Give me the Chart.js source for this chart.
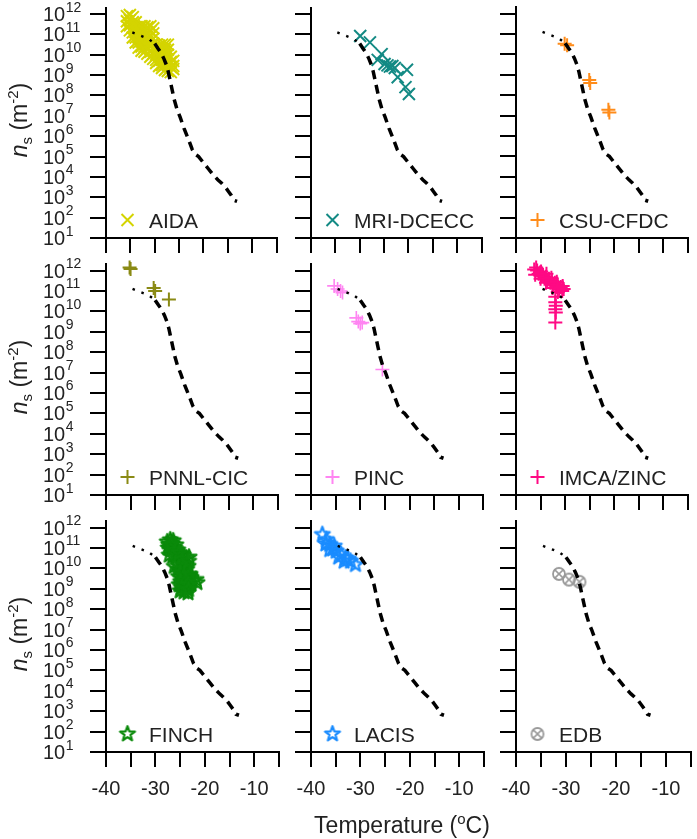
<!DOCTYPE html>
<html><head><meta charset="utf-8">
<script src="https://cdn.jsdelivr.net/npm/chart.js@4/dist/chart.umd.min.js"></script>
<style>
html,body{margin:0;padding:0;background:#fff;}
body{width:697px;height:839px;position:relative;overflow:hidden;}
canvas{position:absolute;}
</style></head><body>
<script>
// ---------------- DATA ----------------
const xTickValues = [-40, -35, -30, -25, -20, -15, -10, -5];
const xTickLabels = [-40, -30, -20, -10];
const yTickExponents = [1, 2, 3, 4, 5, 6, 7, 8, 9, 10, 11, 12];

// reference curve (temperature in degC, log10 of ns in m^-2)
const curveDottedT    = [-34.6, -33.0, -31.4, -30.0];
const curveDottedLogN = [11.1, 10.95, 10.8, 10.55];
const curveDashedT    = [-30.0, -29.3, -28.7, -28.1, -27.6, -27.2, -26.8, -26.4, -26.0, -25.4, -24.8, -24.0, -23.0, -22.3, -21.6, -21.0, -20.0, -19.0, -18.0, -17.0, -16.3, -15.5, -14.9, -14.3, -13.7, -13.1];
const curveDashedLogN = [10.55, 10.3, 10.1, 9.8, 9.5, 9.15, 8.7, 8.25, 7.8, 7.3, 6.95, 6.4, 5.8, 5.35, 5.1, 5.0, 4.7, 4.4, 4.1, 3.85, 3.7, 3.5, 3.3, 3.1, 2.85, 2.8];

// instrument data: [temperature, log10 ns]
const aida = [
  [-35.7,11.9],[-35.7,11.65],[-35.7,11.4],
  [-35.1,11.95],[-35.1,11.7],[-35.1,11.45],[-35.1,11.2],
  [-34.5,11.85],[-34.5,11.6],[-34.5,11.35],[-34.5,11.1],[-34.5,10.85],
  [-33.9,11.6],[-33.9,11.35],[-33.9,11.1],[-33.9,10.85],[-33.9,10.6],
  [-33.3,11.35],[-33.3,11.1],[-33.3,10.85],[-33.3,10.6],[-33.3,10.35],
  [-32.7,11.4],[-32.7,11.15],[-32.7,10.9],[-32.7,10.65],[-32.7,10.4],[-32.7,10.2],
  [-32.1,11.4],[-32.1,11.15],[-32.1,10.9],[-32.1,10.65],[-32.1,10.4],[-32.1,10.15],
  [-31.5,11.35],[-31.5,11.1],[-31.5,10.85],[-31.5,10.6],[-31.5,10.35],[-31.5,10.05],
  [-30.9,11.4],[-30.9,11.15],[-30.9,10.9],[-30.9,10.65],[-30.9,10.4],[-30.9,10.15],[-30.9,9.9],
  [-30.3,11.3],[-30.3,11.05],[-30.3,10.8],[-30.3,10.55],[-30.3,10.3],[-30.3,10.05],[-30.3,9.8],
  [-29.7,10.5],[-29.7,10.25],[-29.7,10.0],[-29.7,9.75],[-29.7,9.6],
  [-29.1,10.45],[-29.1,10.2],[-29.1,9.95],[-29.1,9.7],[-29.1,9.45],
  [-28.5,10.5],[-28.5,10.25],[-28.5,10.0],[-28.5,9.75],[-28.5,9.5],[-28.5,9.35],
  [-27.9,10.5],[-27.9,10.25],[-27.9,10.0],[-27.9,9.75],[-27.9,9.5],[-27.9,9.25],
  [-27.3,10.5],[-27.3,10.25],[-27.3,10.0],[-27.3,9.75],[-27.3,9.5],[-27.3,9.2],
  [-26.7,9.9],[-26.7,9.65],[-26.7,9.4],[-26.7,9.15],
  [-26.2,9.7],[-26.2,9.45],[-26.2,9.3]
];
const mri = [[-29.9,10.92],[-27.9,10.61],[-25.5,10.03],[-26.3,9.75],[-24.9,9.55],[-24.3,9.48],[-23.8,9.42],[-23.3,9.45],[-22.8,9.35],[-20.3,9.26],[-22.2,8.9],[-20.6,8.41],[-19.9,8.07]];
const csu = [[-30.1,10.52],[-29.6,10.45],[-25.1,8.75],[-24.9,8.6],[-21.2,7.28],[-21.0,7.15]];
const pnnl = [[-35.2,12.15],[-35.0,12.08],[-30.3,11.15],[-30.0,11.0],[-27.2,10.58]];
const pinc = [[-35.3,11.25],[-34.6,11.1],[-34.0,11.0],[-33.6,10.92],[-30.8,9.68],[-30.4,9.5],[-30.0,9.4],[-29.6,9.45],[-25.5,7.15]];
const imca = [
  [-36.3,12.05],[-35.9,12.15],[-36.1,11.8],[-35.7,12.0],[-35.4,11.85],[-35.1,11.9],[-35.0,11.6],[-34.9,11.95],
  [-34.8,11.75],[-34.5,11.8],[-34.2,11.6],[-33.9,11.7],[-33.9,11.4],[-33.8,11.85],[-33.6,11.5],[-33.3,11.6],
  [-33.0,11.4],[-32.8,11.65],[-32.7,11.5],[-32.6,11.15],[-32.4,11.3],[-32.1,11.4],[-31.8,11.2],[-31.7,11.45],
  [-31.5,11.3],[-31.5,10.95],[-31.2,11.1],[-30.9,11.2],[-30.6,11.0],[-30.5,11.25],[-30.3,11.1],
  [-32.0,10.72],[-32.0,10.45],[-31.9,10.27],[-32.0,10.1],[-31.9,9.95],[-32.0,9.45]
];
const finch = [
  [-27.6,11.3],[-27.0,11.4],[-26.4,11.35],[-27.4,11.0],[-26.8,10.9],[-26.1,11.0],[-25.5,10.9],[-27.2,10.65],
  [-26.5,10.6],[-25.8,10.55],[-25.0,10.7],[-24.4,10.65],[-23.8,10.5],[-23.2,10.55],[-24.8,10.3],[-24.1,10.2],
  [-23.4,10.1],[-25.7,10.25],[-26.2,10.1],[-25.4,9.95],[-24.7,9.9],[-24.0,9.8],[-23.3,9.7],[-25.3,9.6],
  [-24.5,9.5],[-23.6,9.45],[-22.8,9.55],[-25.2,9.2],[-24.4,9.15],[-23.5,9.05],[-22.8,9.25],[-21.8,9.45],
  [-25.0,8.9],[-24.2,8.85],[-23.4,8.8],
  [-27.3,11.15],[-26.6,11.2],[-25.9,11.15],[-26.0,10.75],[-24.6,10.45],[-25.1,10.1],[-24.4,10.0],
  [-23.7,9.95],[-25.0,9.75],[-24.2,9.65],[-24.9,9.35],[-24.0,9.3],[-22.5,9.4],[-24.7,9.05],[-23.9,9.0],
  [-26.9,11.17],[-25.2,10.76],[-23.3,10.35],[-23.0,9.7],[-23.3,9.2],[-21.6,9.3],[-23.3,8.96]
];
const lacis = [[-37.7,11.66],[-36.9,11.41],[-37.0,11.2],[-36.2,11.17],[-35.3,11.09],[-36.2,10.92],[-35.6,10.95],[-34.9,10.84],[-33.9,10.68],[-34.4,10.55],[-33.0,10.51],[-32.6,10.45],[-33.3,10.35],[-32.0,10.35],[-31.0,10.19]];
const edb = [[-31.4,9.73],[-29.4,9.45],[-27.3,9.34]];

const panelNames  = ['AIDA','MRI-DCECC','CSU-CFDC','PNNL-CIC','PINC','IMCA/ZINC','FINCH','LACIS','EDB'];
const panelData   = [aida, mri, csu, pnnl, pinc, imca, finch, lacis, edb];
const panelColors = ['#d4d400','#138a84','#ff8c1a','#8a8a14','#ff85f2','#ff0a84','#0b8a0b','#1a8cff','#9a9a9a'];
const panelMarker = ['x','x','+','+','+','+','star','star','otimes'];

// ---------------- RENDER ----------------
const FONT = '"Liberation Sans", Arial, Helvetica, sans-serif';
const TEXT = '#222';
Chart.defaults.font.family = FONT;

const colLeft = [106, 311, 516];
const rowBottom = [238, 495, 752];
const PW = 179, PH = 231, LP = 106, TP = 10, RP = 2, BP = 86;

function starImage(color){
  const s = 20, R = 7.8, r = 3.2;
  const c = document.createElement('canvas'); c.width = s; c.height = s;
  const g = c.getContext('2d'); g.translate(s/2, s/2);
  g.beginPath();
  for (let i = 0; i < 10; i++) {
    const ang = -Math.PI/2 + i*Math.PI/5, rr = (i % 2) ? r : R;
    g.lineTo(rr*Math.cos(ang), rr*Math.sin(ang));
  }
  g.closePath();
  g.lineWidth = 2.2; g.lineJoin = 'round'; g.strokeStyle = color; g.stroke();
  return c;
}
function otimesImage(color){
  const s = 16;
  const c = document.createElement('canvas'); c.width = s; c.height = s;
  const g = c.getContext('2d'); g.translate(s/2, s/2);
  g.strokeStyle = color; g.lineWidth = 1.8;
  g.beginPath(); g.arc(0, 0, 6, 0, Math.PI*2); g.stroke();
  g.lineWidth = 1.5; g.beginPath();
  g.moveTo(-3.9,-3.9); g.lineTo(3.9,3.9); g.moveTo(3.9,-3.9); g.lineTo(-3.9,3.9); g.stroke();
  return c;
}
function markerStyle(kind, color){
  if (kind === 'x') return {pointStyle:'crossRot', pointRadius:8.5, pointBorderWidth:2};
  if (kind === '+') return {pointStyle:'cross', pointRadius:7, pointBorderWidth:(color==='#ff85f2'?1.6:2)};
  if (kind === 'star') return {pointStyle:starImage(color), pointRadius:8, pointBorderWidth:0};
  return {pointStyle:otimesImage(color), pointRadius:6, pointBorderWidth:0};
}
function drawLegendMarker(ctx, kind, color, st, x, y){
  ctx.save();
  ctx.strokeStyle = color; ctx.lineWidth = 2;
  if (kind === 'x') {
    const d = 6; ctx.beginPath();
    ctx.moveTo(x-d,y-d); ctx.lineTo(x+d,y+d); ctx.moveTo(x+d,y-d); ctx.lineTo(x-d,y+d); ctx.stroke();
  } else if (kind === '+') {
    const d = 7; ctx.beginPath();
    ctx.moveTo(x-d,y); ctx.lineTo(x+d,y); ctx.moveTo(x,y-d); ctx.lineTo(x,y+d); ctx.stroke();
  } else {
    const im = st.pointStyle; ctx.drawImage(im, x - im.width/2, y - im.height/2);
  }
  ctx.restore();
}
function drawPieces(ctx, parts, x0, y0, center){
  let total = 0;
  parts.forEach(p => { ctx.font = p.f; p.w = ctx.measureText(p.t).width; total += p.w; });
  let x = center ? x0 - total/2 : x0;
  parts.forEach(p => { ctx.font = p.f; ctx.fillText(p.t, x, y0 + p.dy); x += p.w; });
}

function decoPlugin(i, st){
  const row = Math.floor(i/3), col = i % 3;
  return { id: 'deco' + i, afterDraw(chart){
    const ctx = chart.ctx, a = chart.chartArea, xs = chart.scales.x, ys = chart.scales.y;
    ctx.save();
    ctx.fillStyle = TEXT; ctx.textAlign = 'left'; ctx.textBaseline = 'alphabetic';
    drawLegendMarker(ctx, panelMarker[i], panelColors[i], st, a.left + 21.5, a.bottom - 18);
    ctx.font = '21px ' + FONT;
    ctx.fillText(panelNames[i], a.left + 43, a.bottom - 10);
    if (col === 0) {
      yTickExponents.forEach(e => {
        const y = ys.getPixelForValue(Math.pow(10, e));
        const x0 = a.left - 63;
        ctx.font = '20px ' + FONT; ctx.fillText('10', x0, y + 7);
        const w = ctx.measureText('10').width;
        ctx.font = '14px ' + FONT; ctx.fillText(String(e), x0 + w + 0.5, y - 2.5);
      });
      ctx.save();
      ctx.translate(a.left - 79, a.bottom - 118); ctx.rotate(-Math.PI/2);
      drawPieces(ctx, [
        {t:'n', f:'italic 23px ' + FONT, dy:0},
        {t:'s', f:'15px ' + FONT, dy:5},
        {t:' (m', f:'23px ' + FONT, dy:0},
        {t:'-2', f:'15px ' + FONT, dy:-9},
        {t:')', f:'23px ' + FONT, dy:0}
      ], 0, 0, true);
      ctx.restore();
    }
    if (row === 2) {
      ctx.textAlign = 'center'; ctx.font = '20px ' + FONT;
      xTickLabels.forEach(t => ctx.fillText(String(t), xs.getPixelForValue(t), a.bottom + 43));
      ctx.textAlign = 'left';
      if (col === 1) {
        drawPieces(ctx, [
          {t:'Temperature (', f:'23px ' + FONT, dy:0},
          {t:'o', f:'15px ' + FONT, dy:-9},
          {t:'C)', f:'23px ' + FONT, dy:0}
        ], a.left + 91, a.bottom + 81, true);
      }
    }
    ctx.restore();
  }};
}

const toPts = arr => arr.map(p => ({x: p[0], y: Math.pow(10, p[1])}));
const dottedPts = curveDottedT.map((t, k) => ({x: t, y: Math.pow(10, curveDottedLogN[k])}));
const dashedPts = curveDashedT.map((t, k) => ({x: t, y: Math.pow(10, curveDashedLogN[k])}));

for (let i = 0; i < 9; i++) {
  const row = Math.floor(i/3), col = i % 3;
  const cv = document.createElement('canvas');
  cv.width = LP + PW + RP; cv.height = TP + PH + BP;
  cv.style.left = (colLeft[col] - LP) + 'px';
  cv.style.top = (rowBottom[row] - PH - TP) + 'px';
  document.body.appendChild(cv);
  const st = markerStyle(panelMarker[i], panelColors[i]);
  const axisGrid = len => ({display:true, drawOnChartArea:false, drawTicks:true, tickLength:len, lineWidth:2, color:'#000'});
  new Chart(cv.getContext('2d'), {
    type: 'scatter',
    data: { datasets: [
      {data: dashedPts, showLine:true, borderColor:'#000', borderWidth:3.5, borderDash:[9,6], pointRadius:0, fill:false, tension:0, clip:false},
      {data: dottedPts, showLine:true, borderColor:'#000', borderWidth:2.4, borderDash:[2.5,7], pointRadius:0, fill:false, tension:0, clip:false},
      Object.assign({data: toPts(panelData[i]), showLine:false, borderColor:panelColors[i], backgroundColor:panelColors[i],
        pointBorderColor:panelColors[i], pointBackgroundColor:'rgba(0,0,0,0)', clip:false}, st)
    ]},
    options: {
      responsive:false, animation:false, events:[], devicePixelRatio:1,
      layout:{padding:{top:TP, right:RP, left:0, bottom:0}},
      plugins:{legend:{display:false}, tooltip:{enabled:false}},
      scales:{
        x:{type:'linear', position:'bottom', min:-40, max:-5,
           ticks:{display:false},
           afterBuildTicks: s => { s.ticks = xTickValues.map(v => ({value:v})); },
           afterFit: s => { s.height = BP; },
           grid: axisGrid(15), border:{display:true, width:2, color:'#000'}},
        y:{type:'logarithmic', position:'left', min:10, max:2.1e12,
           ticks:{display:false},
           afterBuildTicks: s => { s.ticks = yTickExponents.map(e => ({value:Math.pow(10, e)})); },
           afterFit: s => { s.width = LP; },
           grid: axisGrid(16), border:{display:true, width:2, color:'#000'}}
      }
    },
    plugins:[decoPlugin(i, st)]
  });
}
</script>
</body></html>
